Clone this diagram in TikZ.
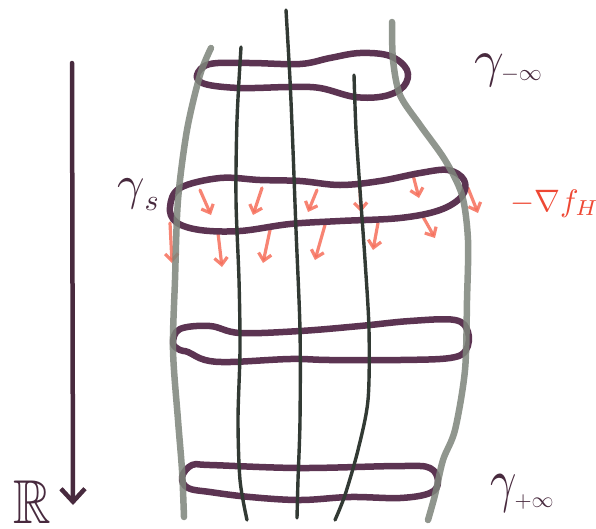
\documentclass[tikz,border=0pt]{standalone}
\usepackage{amssymb}
\usepackage{graphicx}
\usetikzlibrary{arrows.meta}
\definecolor{loopc}{RGB}{92,52,82}
\definecolor{darkstr}{RGB}{50,58,52}
\definecolor{graystr}{RGB}{125,132,122}
\definecolor{inkc}{RGB}{72,42,62}
\definecolor{gradc}{RGB}{246,110,90}
\definecolor{labred}{RGB}{238,72,52}
\begin{document}
\begin{tikzpicture}[x=1pt,y=-1pt,line cap=round,line join=round,
  loopline/.style={draw=loopc,line width=6.5pt},
  darkline/.style={draw=darkstr,line width=3.4pt},
  grayline/.style={draw=graystr,line width=6.5pt,opacity=0.85},
  gradarrow/.style={draw=gradc,line width=3.2pt,opacity=0.85,-{Straight Barb[length=7pt,width=13pt]}},
  axisarrow/.style={draw=inkc,line width=4.5pt,-{Straight Barb[length=13pt,width=24pt]}},
  lab/.style={inner sep=0pt,text=inkc,anchor=base west}]
\useasboundingbox (0,0) rectangle (596,528);

% gradient arrows
\draw[gradarrow] (200,190) -- (211,215);
\draw[gradarrow] (262,188) -- (253,215);
\draw[gradarrow] (317,190) -- (308,212);
\draw[gradarrow] (360,190) -- (361,212);
\draw[gradarrow] (413,175) -- (419,198);
\draw[gradarrow] (468,188) -- (478,213);
\draw[gradarrow] (170,223) -- (172,263);
\draw[gradarrow] (218,233) -- (222,267);
\draw[gradarrow] (270,230) -- (263,263);
\draw[gradarrow] (325,225) -- (315,260);
\draw[gradarrow] (378,223) -- (373,250);
\draw[gradarrow] (422,215) -- (435,238);

% loops
\draw[loopline] plot[smooth cycle,tension=0.6] coordinates {(197,75) (210,64) (250,63) (300,64) (330,58) (360,53) (390,56) (407,70) (404,86) (385,96) (355,97) (320,88) (290,87) (240,88) (205,84)};
\draw[loopline] plot[smooth cycle,tension=0.6] coordinates {(170,207) (180,188) (220,178) (260,180) (300,181) (340,185) (380,181) (420,173) (448,170) (464,180) (462,196) (440,210) (400,218) (340,221) (290,224) (240,231) (200,230) (176,222)};
\draw[loopline] plot[smooth cycle,tension=0.6] coordinates {(173,343) (180,329) (210,326) (240,333) (300,331) (360,326) (410,321) (455,320) (468,332) (466,350) (450,358) (400,360) (330,360) (290,359) (230,362) (205,360) (188,352) (180,350)};
\draw[loopline] plot[smooth cycle,tension=0.6] coordinates {(182,477) (192,465) (210,465) (300,468) (400,466) (430,468) (438,482) (430,493) (400,498) (350,497) (300,500) (250,497) (210,492) (188,488)};

% strings
\draw[grayline] plot[smooth] coordinates {(211,48) (200,75) (187,130) (178,200) (175,280) (173,350) (178,420) (182,470) (184,517)};
\draw[darkline] plot[smooth] coordinates {(241,47) (237,120) (236,200) (239,280) (240,350) (238,420) (240,480) (247,520)};
\draw[darkline] plot[smooth] coordinates {(286,10) (290,80) (293,150) (296,230) (300,330) (300,420) (298,480) (297,518)};
\draw[darkline] plot[smooth] coordinates {(354,75) (356,130) (360,190) (365,260) (369,330) (368,400) (358,450) (345,495) (335,520)};
\draw[grayline] plot[smooth] coordinates {(392,22) (393,60) (400,95) (420,125) (445,160) (462,195) (468,240) (467,300) (465,370) (455,430) (443,460) (435,495) (428,520)};

% R axis
\coordinate (Rtop) at (72,63);
\coordinate (Rbot) at (73,505);
\draw[axisarrow] (Rtop) -- (Rbot);

% labels
\node[lab] (lR) at (13,523) {\scalebox{5.2}[6.2]{$\mathbb{R}$}};
\node[lab] (lminf) at (474,76) {\scalebox{5.2}{$\gamma$}\hspace{-3pt}\raisebox{-4.5pt}{\scalebox{2.3}{$-\infty$}}};
\node[lab] (ls) at (117,199) {\scalebox{4.8}{$\gamma$}\hspace{0pt}\raisebox{-11pt}{\scalebox{3}{$s$}}};
\node[lab] (lpinf) at (490,500) {\scalebox{4.6}[6]{$\gamma$}\hspace{-2pt}\raisebox{-7.5pt}{\scalebox{2.2}{$+\infty$}}};
\node[lab,text=labred] (lgrad) at (510,211) {\scalebox{3.1}{$-\nabla f_H$}};
\end{tikzpicture}
\end{document}
